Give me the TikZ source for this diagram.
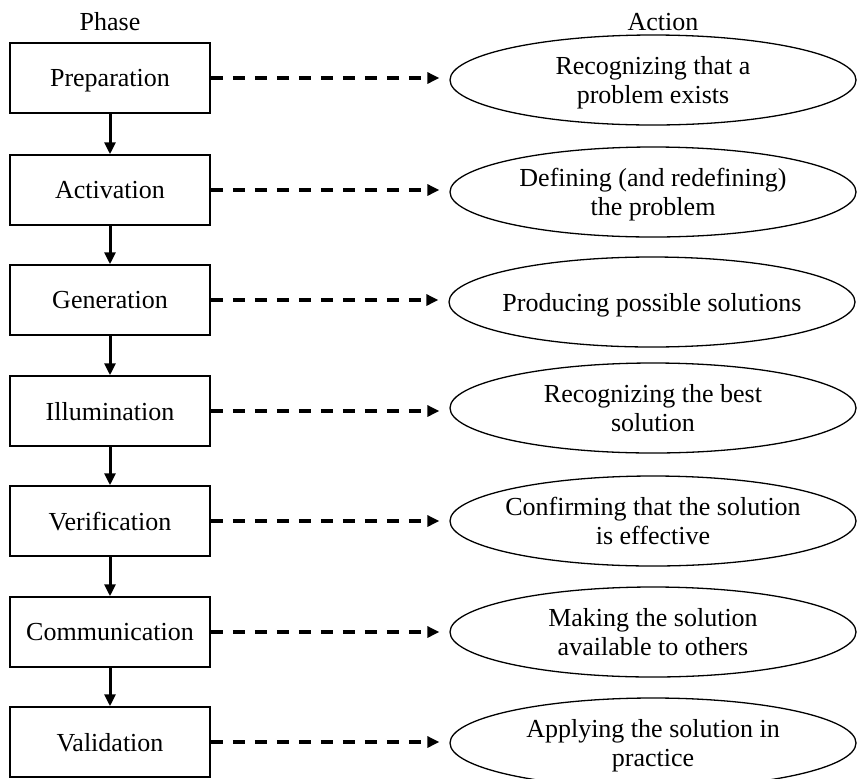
\documentclass[tikz,border=0pt]{standalone}
\usepackage{fontspec}
\setmainfont{Liberation Serif}
\usetikzlibrary{shapes.geometric,arrows.meta}

\tikzset{
  phasebox/.style={draw, line width=0.75pt, minimum width=100pt, minimum height=35pt,
    inner sep=0pt, text depth=0pt, font=\fontsize{13}{14.5}\selectfont},
  actionell/.style={draw, ellipse, line width=0.65pt, minimum width=203pt, minimum height=45pt,
    inner xsep=-25pt, inner ysep=0pt, text depth=0pt, align=center,
    font=\fontsize{13}{14.5}\selectfont},
  heading/.style={font=\fontsize{13}{14.5}\selectfont, inner sep=0pt},
  flowarrow/.style={line width=1.5pt, -{Triangle[length=6pt,width=5.5pt]}},
  linkarrow/.style={line width=2pt, dash pattern=on 6pt off 5pt,
    -{Triangle[length=6pt,width=5.5pt]}, shorten >=5pt},
}

\begin{document}
\begin{tikzpicture}[x=0.5pt, y=-0.5pt]
  \useasboundingbox (0,0) rectangle (857,778);

  \node[heading] (hphase) at (110,22) {Phase};
  \node[heading] (haction) at (663,22) {Action};

  % phases
  \node[phasebox] (p1) at (110,78)  {Preparation};
  \node[phasebox] (p2) at (110,190) {Activation};
  \node[phasebox] (p3) at (110,300) {Generation};
  \node[phasebox] (p4) at (110,411) {Illumination};
  \node[phasebox] (p5) at (110,521) {Verification};
  \node[phasebox] (p6) at (110,632) {Communication};
  \node[phasebox] (p7) at (110,742) {Validation};

  % actions
  \node[actionell] (a1) at (653,80)  {Recognizing that a\\problem exists};
  \node[actionell] (a2) at (653,192) {Defining (and redefining)\\the problem};
  \node[actionell] (a3) at (652,302) {Producing possible solutions};
  \node[actionell] (a4) at (653,408) {Recognizing the best\\solution};
  \node[actionell] (a5) at (653,521) {Confirming that the solution\\is effective};
  \node[actionell] (a6) at (653,632) {Making the solution\\available to others};
  \node[actionell] (a7) at (653,743) {Applying the solution in\\practice};

  % phase sequence
  \foreach \i/\j in {1/2,2/3,3/4,4/5,5/6,6/7}
    \draw[flowarrow] (p\i.south) -- (p\j.north);

  % phase to action links
  \foreach \i in {1,...,7}
    \draw[linkarrow] (p\i.east) -- (p\i.east -| a\i.west);
\end{tikzpicture}
\end{document}
